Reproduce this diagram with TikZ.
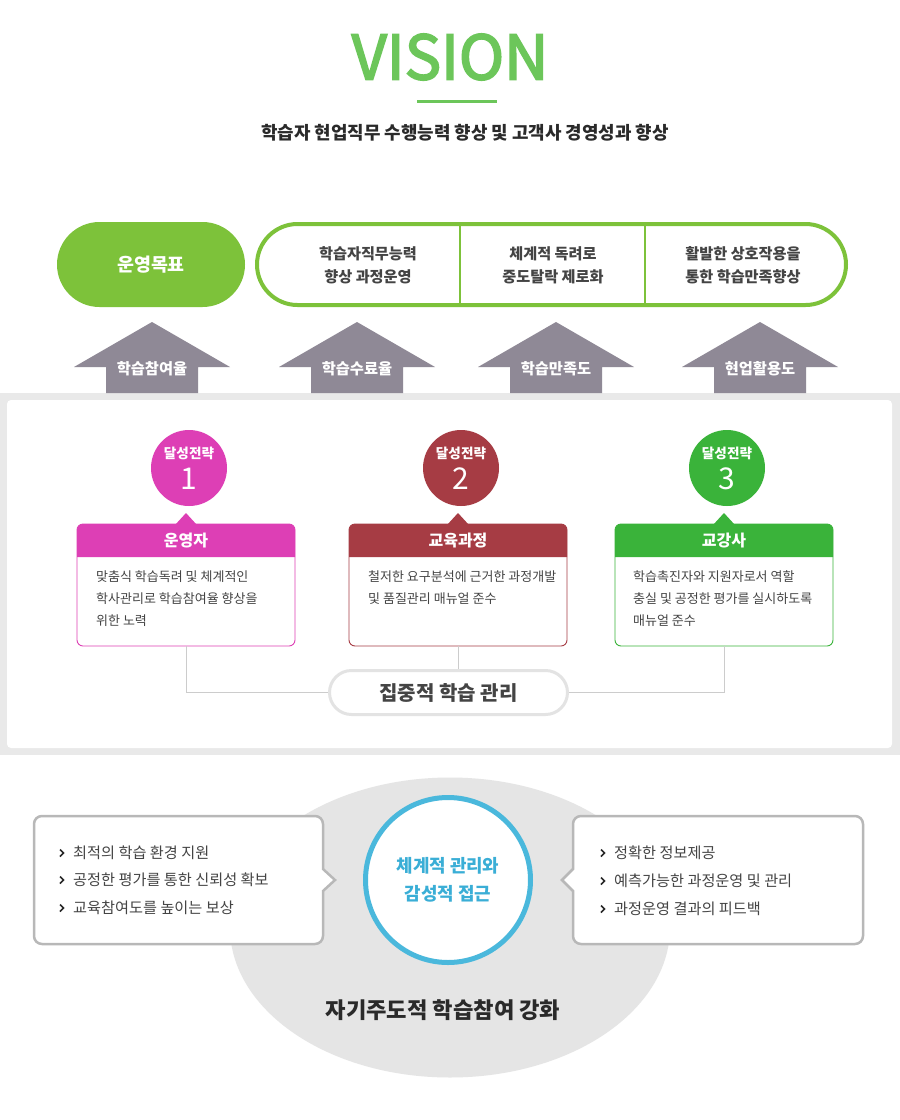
\documentclass[tikz,border=0pt]{standalone}
\usepackage{fontspec}
\setmainfont{Noto Sans CJK KR}
\newfontfamily\visfont{Noto Sans CJK KR}[FakeBold=3]
\definecolor{visgreen}{HTML}{6CC65A}
\definecolor{goalgreen}{HTML}{7DC23A}
\definecolor{arrowgray}{HTML}{8F8996}
\definecolor{bandgray}{HTML}{E9E9E9}
\definecolor{colA}{HTML}{DD3FB5}
\definecolor{colB}{HTML}{A63C44}
\definecolor{colC}{HTML}{3AB33A}
\definecolor{linegray}{HTML}{CCCCCC}
\definecolor{pillgray}{HTML}{E3E3E3}
\definecolor{ellgray}{HTML}{E5E5E5}
\definecolor{callgray}{HTML}{B8B8B8}
\definecolor{blueA}{HTML}{4AB8DC}
\definecolor{blueT}{HTML}{3AAED6}
\definecolor{txtdark}{HTML}{2A2A2A}
\definecolor{txtbody}{HTML}{444444}
\newcommand{\fs}[2]{\fontsize{#1}{#2}\selectfont}
\begin{document}
\begin{tikzpicture}[x=1pt,y=-1pt,
  goaltext/.style={text=txtbody,font=\fs{15.2}{23}\bfseries,align=center},
  arrowtext/.style={text=white,font=\fs{15.3}{17}\bfseries},
  stratcircle/.style={circle,minimum size=76pt,inner sep=0pt},
  boxframe/.style={draw=#1,fill=white,rounded corners=6pt,minimum width=218pt,minimum height=122pt,inner sep=0pt,line width=0.9pt},
  headtext/.style={text=white,font=\fs{16}{18}\bfseries},
  bodytext/.style={text=txtbody,font=\fs{13}{22},align=left,anchor=north west,inner sep=0pt},
  conn/.style={draw=linegray,line width=1pt},
  calltext/.style={text=txtbody,font=\fs{15.2}{17},anchor=west,inner sep=0pt},
  bullet/.style={draw=txtdark,line width=1.5pt}
]
\useasboundingbox (0,0) rectangle (900,1120);
\fill[white] (0,0) rectangle (900,1120);

% title
\node[text=visgreen,font=\fs{61}{62}\visfont,inner sep=0pt] (vision) at (450,57) {VISION};
\draw[visgreen,line width=3pt] (417,101) -- (497,101);
\node[text=txtdark,font=\fs{17.9}{20}\bfseries] (sub) at (465,133) {학습자 현업직무 수행능력 향상 및 고객사 경영성과 향상};

% goals
\node[fill=goalgreen,rounded corners=42.5pt,minimum width=188pt,minimum height=85pt,inner sep=0pt,text=white,font=\fs{18.4}{20}\bfseries] (goal) at (151,264.5) {운영목표};
\node[draw=goalgreen,line width=4pt,rounded corners=40.5pt,minimum width=589pt,minimum height=81pt,inner sep=0pt] (goalbox) at (551.5,264.5) {};
\draw[goalgreen,line width=1.2pt] (460,226) -- (460,303);
\draw[goalgreen,line width=1.2pt] (645,226) -- (645,303);
\node[goaltext] (g1) at (368,265.5) {학습자직무능력\\향상 과정운영};
\node[goaltext] (g2) at (553,265.5) {체계적 독려로\\중도탈락 제로화};
\node[goaltext] (g3) at (743,265.5) {활발한 상호작용을\\통한 학습만족향상};

% gray band
\fill[bandgray] (0,393) rectangle (900,755);
\fill[white,rounded corners=4pt] (7,400) rectangle (892,748);

% arrows
\foreach \ax/\lab [count=\i] in {152/학습참여율,357/학습수료율,556/학습만족도,760/현업활용도}{
  \fill[arrowgray] (\ax-78,367) -- (\ax,322) -- (\ax+78,367) -- (\ax+46,367) -- (\ax+46,393) -- (\ax-46,393) -- (\ax-46,367) -- cycle;
  \node[arrowtext] (ar\i) at (\ax,369) {\lab};
}

% strategy circles
\node[stratcircle,fill=colA] (c1) at (189,468) {};
\node[stratcircle,fill=colB] (c2) at (461,468) {};
\node[stratcircle,fill=colC] (c3) at (727,468) {};
\foreach \cx/\n in {189/1,461/2,727/3}{
  \node[text=white,font=\fs{13.6}{15}\bfseries] (ct\n) at (\cx,453) {달성전략};
  \node[text=white,font=\fs{30}{32}] (cn\n) at (\cx,479) {\n};
}

% boxes
\node[boxframe=colA] (b1) at (186,585) {};
\node[boxframe=colB] (b2) at (458,585) {};
\node[boxframe=colC] (b3) at (724,585) {};
\foreach \bx/\col in {186/colA,458/colB,724/colC}{
  \fill[\col] (\bx-109,557) [rounded corners=6pt] -- (\bx-109,524) -- (\bx+109,524) [sharp corners] -- (\bx+109,557) -- cycle;
  \fill[\col] (\bx-11,525) -- (\bx,513) -- (\bx+11,525) -- cycle;
}
\node[headtext] (h1) at (186,541) {운영자};
\node[headtext] (h2) at (458,541) {교육과정};
\node[headtext] (h3) at (724,541) {교강사};
\node[bodytext] (t1) at (96,570) {맞춤식 학습독려 및 체계적인\\학사관리로 학습참여율 향상을\\위한 노력};
\node[bodytext] (t2) at (368,570) {철저한 요구분석에 근거한 과정개발\\및 품질관리 매뉴얼 준수};
\node[bodytext] (t3) at (633,570) {학습촉진자와 지원자로서 역할\\충실 및 공정한 평가를 실시하도록\\매뉴얼 준수};

% central pill and connectors
\node[draw=pillgray,line width=3pt,fill=white,rounded corners=22pt,minimum width=238pt,minimum height=44pt,inner sep=0pt,text=txtbody,font=\fs{20}{22}\bfseries] (pill) at (448.5,692.5) {집중적 학습 관리};
\draw[conn] (b1.south) |- (pill.west);
\draw[conn] (b2.south) -- (b2.south |- pill.north);
\draw[conn] (b3.south) |- (pill.east);

% bottom
\fill[ellgray] (450,927.5) ellipse [x radius=220pt,y radius=150pt];
\draw[callgray,line width=2.5pt,fill=white] [rounded corners=8pt] (34,816) -- (323,816) [sharp corners] -- (323,869) -- (335,880) -- (323,891) [rounded corners=8pt] -- (323,944) -- (34,944) -- cycle;
\draw[callgray,line width=2.5pt,fill=white] [rounded corners=8pt] (863,944) -- (573,944) [sharp corners] -- (573,891) -- (562,880) -- (573,869) [rounded corners=8pt] -- (573,816) -- (863,816) -- cycle;
\node[circle,draw=blueA,line width=5pt,fill=white,minimum size=165pt,inner sep=0pt] (core) at (448,880) {};
\node[text=blueT,font=\fs{17.9}{28}\bfseries,align=center] (coret) at (448,880) {체계적 관리와\\감성적 접근};

\foreach \yy/\tt [count=\i] in {853/최적의 학습 환경 지원,880/공정한 평가를 통한 신뢰성 확보,908/교육참여도를 높이는 보상}{
  \draw[bullet] (60,\yy-3.5) -- (63.5,\yy) -- (60,\yy+3.5);
  \node[calltext] (l\i) at (73,\yy) {\tt};
}
\foreach \yy/\tt [count=\i] in {853/정확한 정보제공,881/예측가능한 과정운영 및 관리,909/과정운영 결과의 피드백}{
  \draw[bullet] (601,\yy-3.5) -- (604.5,\yy) -- (601,\yy+3.5);
  \node[calltext] (r\i) at (614,\yy) {\tt};
}
\node[text=txtdark,font=\fs{22.2}{24}\bfseries] (bottom) at (443,1010) {자기주도적 학습참여 강화};
\end{tikzpicture}
\end{document}
